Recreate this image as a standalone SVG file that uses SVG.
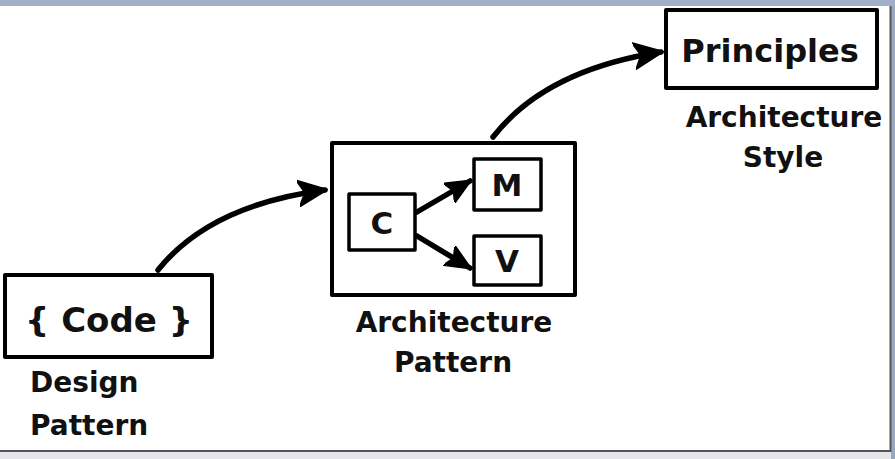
<svg xmlns="http://www.w3.org/2000/svg" width="895" height="459" viewBox="0 0 895 459">
<defs>
<style>
.box{fill:#fff;stroke:#000;stroke-width:4;stroke-linejoin:round}
.sbox{fill:#fff;stroke:#000;stroke-width:3.5;stroke-linejoin:round}
.t{font-family:"DejaVu Sans",sans-serif;font-weight:bold;fill:#111}
.conn{fill:none;stroke:#000;stroke-width:5.5;stroke-linecap:round}
</style>
<marker id="big" viewBox="0 0 30 28" refX="27" refY="14" markerWidth="30" markerHeight="28" markerUnits="userSpaceOnUse" orient="auto">
<path d="M0,1 L29,14 L0,27 L7,14 Z" fill="#000" stroke="#000" stroke-width="2" stroke-linejoin="round"/>
</marker>
<marker id="small" viewBox="0 0 26 24" refX="24" refY="12" markerWidth="26" markerHeight="24" markerUnits="userSpaceOnUse" orient="auto">
<path d="M0,1 L25,12 L0,23 L5,12 Z" fill="#000" stroke="#000" stroke-width="2" stroke-linejoin="round"/>
</marker>
</defs>
<rect x="0" y="0" width="895" height="459" fill="#ffffff"/>
<rect x="0" y="0" width="895" height="6" fill="#a2afc8"/>
<rect x="0" y="451" width="895" height="8" fill="#e4e6ea"/>
<line x1="0" y1="451" x2="891" y2="451" stroke="#555" stroke-width="2"/>
<rect x="891" y="6" width="4" height="453" fill="#9aa7c0"/>
<line x1="890.5" y1="6" x2="890.5" y2="452" stroke="#555" stroke-width="2"/>

<g id="code">
<rect class="box" x="5" y="275" width="207" height="82"/>
<text class="t" x="109" y="332" font-size="34" text-anchor="middle">{ Code }</text>
<text class="t" x="30" y="392" font-size="28">Design</text>
<text class="t" x="30" y="435" font-size="28">Pattern</text>
</g>

<g id="architecture-pattern">
<rect class="box" x="332" y="143" width="243" height="152"/>
<text class="t" x="454" y="332" font-size="28" text-anchor="middle">Architecture</text>
<text class="t" x="453" y="372" font-size="28" text-anchor="middle">Pattern</text>
</g>

<g id="c">
<rect class="sbox" x="349" y="194" width="66" height="56"/>
<text class="t" x="382" y="234" font-size="31" text-anchor="middle">C</text>
</g>
<g id="m">
<rect class="sbox" x="474" y="159" width="67" height="51"/>
<text class="t" x="507" y="196" font-size="31" text-anchor="middle">M</text>
</g>
<g id="v">
<rect class="sbox" x="474" y="236" width="67" height="49"/>
<text class="t" x="507" y="272" font-size="31" text-anchor="middle">V</text>
</g>

<g id="principles">
<rect class="box" x="666" y="10" width="211" height="78"/>
<text class="t" x="770" y="62" font-size="32" text-anchor="middle">Principles</text>
<text class="t" x="784" y="127" font-size="28" text-anchor="middle">Architecture</text>
<text class="t" x="783" y="167" font-size="28" text-anchor="middle">Style</text>
</g>

<g id="connectors">
<path class="conn" d="M158,270 Q210,205 325,190" marker-end="url(#big)"/>
<path class="conn" d="M493,137 Q545,70 661,52" marker-end="url(#big)"/>
<path class="conn" d="M417,212 L470,181" marker-end="url(#small)"/>
<path class="conn" d="M417,236 L470,268" marker-end="url(#small)"/>
</g>
</svg>
